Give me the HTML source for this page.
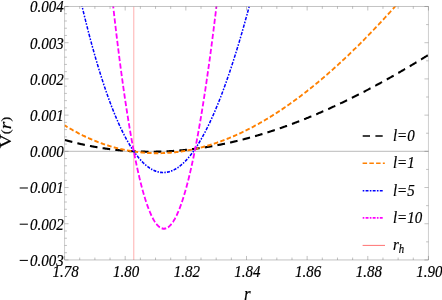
<!DOCTYPE html>
<html><head><meta charset="utf-8"><style>
html,body{margin:0;padding:0;background:#fff;}
body{width:442px;height:300px;overflow:hidden;}
svg{display:block;will-change:transform;}
text{font-family:"Liberation Serif",serif;font-style:italic;fill:#000;stroke:#000;stroke-width:0.18px;}
</style></head><body>
<svg width="442" height="300" viewBox="0 0 442 300">
<rect width="442" height="300" fill="#fff"/>
<defs><clipPath id="c"><rect x="64.55" y="5.65" width="363.90" height="220.39"/></clipPath></defs>
<g transform="scale(1,1.15)">
<line x1="64.55" y1="131.57" x2="428.45" y2="131.57" stroke="#666" stroke-width="0.42"/>
<g clip-path="url(#c)" fill="none" stroke-linecap="butt" stroke-linejoin="round">
<line x1="133.7" y1="5.65" x2="133.7" y2="226.04" stroke="#ffc6c6" stroke-width="1.4"/>
<path d="M64.55,121.64 L65.05,121.76 L65.55,121.88 L66.05,122.01 L66.55,122.13 L67.05,122.25 L67.55,122.36 L68.05,122.48 L68.55,122.60 L69.05,122.72 L69.55,122.83 L70.05,122.95 L70.55,123.06 L71.05,123.17 L71.55,123.29 L72.05,123.40 L72.55,123.51 L73.05,123.62 L73.55,123.73 L74.05,123.84 L74.55,123.95 L75.05,124.06 L75.55,124.16 L76.05,124.27 L76.55,124.37 L77.05,124.48 L77.55,124.58 L78.05,124.68 L78.55,124.79 L79.05,124.89 L79.55,124.99 L80.05,125.09 L80.55,125.19 L81.05,125.29 L81.55,125.38 L82.05,125.48 L82.55,125.58 L83.05,125.67 L83.55,125.77 L84.05,125.86 L84.55,125.95 L85.05,126.05 L85.55,126.14 L86.05,126.23 L86.55,126.32 L87.05,126.41 L87.55,126.50 L88.05,126.58 L88.55,126.67 L89.05,126.76 L89.55,126.84 L90.05,126.93 L90.55,127.01 L91.05,127.10 L91.55,127.18 L92.05,127.26 L92.55,127.34 L93.05,127.42 L93.55,127.50 L94.05,127.58 L94.55,127.66 L95.05,127.74 L95.55,127.81 L96.05,127.89 L96.55,127.97 L97.05,128.04 L97.55,128.11 L98.05,128.19 L98.55,128.26 L99.05,128.33 L99.55,128.40 L100.05,128.47 L100.55,128.54 L101.05,128.61 L101.55,128.68 L102.05,128.75 L102.55,128.81 L103.05,128.88 L103.55,128.95 L104.05,129.01 L104.55,129.07 L105.05,129.14 L105.55,129.20 L106.05,129.26 L106.55,129.32 L107.05,129.38 L107.55,129.44 L108.05,129.50 L108.55,129.56 L109.05,129.61 L109.55,129.67 L110.05,129.73 L110.55,129.78 L111.05,129.84 L111.55,129.89 L112.05,129.94 L112.55,130.00 L113.05,130.05 L113.55,130.10 L114.05,130.15 L114.55,130.20 L115.05,130.25 L115.55,130.30 L116.05,130.34 L116.55,130.39 L117.05,130.44 L117.55,130.48 L118.05,130.53 L118.55,130.57 L119.05,130.61 L119.55,130.65 L120.05,130.70 L120.55,130.74 L121.05,130.78 L121.55,130.82 L122.05,130.86 L122.55,130.89 L123.05,130.93 L123.55,130.97 L124.05,131.00 L124.55,131.04 L125.05,131.08 L125.55,131.11 L126.05,131.14 L126.55,131.18 L127.05,131.21 L127.55,131.24 L128.05,131.27 L128.55,131.30 L129.05,131.33 L129.55,131.36 L130.05,131.38 L130.55,131.41 L131.05,131.44 L131.55,131.46 L132.05,131.49 L132.55,131.51 L133.05,131.54 L133.55,131.56 L134.05,131.58 L134.55,131.60 L135.05,131.63 L135.55,131.65 L136.05,131.67 L136.55,131.68 L137.05,131.70 L137.55,131.72 L138.05,131.74 L138.55,131.75 L139.05,131.77 L139.55,131.78 L140.05,131.80 L140.55,131.81 L141.05,131.82 L141.55,131.84 L142.05,131.85 L142.55,131.86 L143.05,131.87 L143.55,131.88 L144.05,131.89 L144.55,131.90 L145.05,131.90 L145.55,131.91 L146.05,131.92 L146.55,131.92 L147.05,131.93 L147.55,131.93 L148.05,131.93 L148.55,131.94 L149.05,131.94 L149.55,131.94 L150.05,131.94 L150.55,131.94 L151.05,131.94 L151.55,131.94 L152.05,131.94 L152.55,131.93 L153.05,131.93 L153.55,131.93 L154.05,131.92 L154.55,131.92 L155.05,131.91 L155.55,131.91 L156.05,131.90 L156.55,131.89 L157.05,131.88 L157.55,131.87 L158.05,131.86 L158.55,131.85 L159.05,131.84 L159.55,131.83 L160.05,131.82 L160.55,131.81 L161.05,131.79 L161.55,131.78 L162.05,131.76 L162.55,131.75 L163.05,131.73 L163.55,131.71 L164.05,131.70 L164.55,131.68 L165.05,131.66 L165.55,131.64 L166.05,131.62 L166.55,131.60 L167.05,131.58 L167.55,131.56 L168.05,131.53 L168.55,131.51 L169.05,131.49 L169.55,131.46 L170.05,131.44 L170.55,131.41 L171.05,131.38 L171.55,131.36 L172.05,131.33 L172.55,131.30 L173.05,131.27 L173.55,131.24 L174.05,131.21 L174.55,131.18 L175.05,131.15 L175.55,131.12 L176.05,131.08 L176.55,131.05 L177.05,131.02 L177.55,130.98 L178.05,130.95 L178.55,130.91 L179.05,130.87 L179.55,130.84 L180.05,130.80 L180.55,130.76 L181.05,130.72 L181.55,130.68 L182.05,130.64 L182.55,130.60 L183.05,130.56 L183.55,130.52 L184.05,130.47 L184.55,130.43 L185.05,130.39 L185.55,130.34 L186.05,130.30 L186.55,130.25 L187.05,130.20 L187.55,130.16 L188.05,130.11 L188.55,130.06 L189.05,130.01 L189.55,129.96 L190.05,129.91 L190.55,129.86 L191.05,129.81 L191.55,129.76 L192.05,129.70 L192.55,129.65 L193.05,129.60 L193.55,129.54 L194.05,129.49 L194.55,129.43 L195.05,129.38 L195.55,129.32 L196.05,129.26 L196.55,129.20 L197.05,129.14 L197.55,129.09 L198.05,129.03 L198.55,128.96 L199.05,128.90 L199.55,128.84 L200.05,128.78 L200.55,128.72 L201.05,128.65 L201.55,128.59 L202.05,128.52 L202.55,128.46 L203.05,128.39 L203.55,128.33 L204.05,128.26 L204.55,128.19 L205.05,128.12 L205.55,128.05 L206.05,127.98 L206.55,127.91 L207.05,127.84 L207.55,127.77 L208.05,127.70 L208.55,127.63 L209.05,127.56 L209.55,127.48 L210.05,127.41 L210.55,127.33 L211.05,127.26 L211.55,127.18 L212.05,127.11 L212.55,127.03 L213.05,126.95 L213.55,126.87 L214.05,126.79 L214.55,126.71 L215.05,126.63 L215.55,126.55 L216.05,126.47 L216.55,126.39 L217.05,126.31 L217.55,126.22 L218.05,126.14 L218.55,126.06 L219.05,125.97 L219.55,125.89 L220.05,125.80 L220.55,125.72 L221.05,125.63 L221.55,125.54 L222.05,125.45 L222.55,125.36 L223.05,125.27 L223.55,125.18 L224.05,125.09 L224.55,125.00 L225.05,124.91 L225.55,124.82 L226.05,124.73 L226.55,124.63 L227.05,124.54 L227.55,124.45 L228.05,124.35 L228.55,124.26 L229.05,124.16 L229.55,124.06 L230.05,123.97 L230.55,123.87 L231.05,123.77 L231.55,123.67 L232.05,123.57 L232.55,123.47 L233.05,123.37 L233.55,123.27 L234.05,123.17 L234.55,123.07 L235.05,122.96 L235.55,122.86 L236.05,122.76 L236.55,122.65 L237.05,122.55 L237.55,122.44 L238.05,122.33 L238.55,122.23 L239.05,122.12 L239.55,122.01 L240.05,121.91 L240.55,121.80 L241.05,121.69 L241.55,121.58 L242.05,121.47 L242.55,121.36 L243.05,121.24 L243.55,121.13 L244.05,121.02 L244.55,120.91 L245.05,120.79 L245.55,120.68 L246.05,120.56 L246.55,120.45 L247.05,120.33 L247.55,120.22 L248.05,120.10 L248.55,119.98 L249.05,119.86 L249.55,119.74 L250.05,119.63 L250.55,119.51 L251.05,119.39 L251.55,119.26 L252.05,119.14 L252.55,119.02 L253.05,118.90 L253.55,118.78 L254.05,118.65 L254.55,118.53 L255.05,118.40 L255.55,118.28 L256.05,118.15 L256.55,118.03 L257.05,117.90 L257.55,117.77 L258.05,117.65 L258.55,117.52 L259.05,117.39 L259.55,117.26 L260.05,117.13 L260.55,117.00 L261.05,116.87 L261.55,116.74 L262.05,116.61 L262.55,116.47 L263.05,116.34 L263.55,116.21 L264.05,116.07 L264.55,115.94 L265.05,115.81 L265.55,115.67 L266.05,115.53 L266.55,115.40 L267.05,115.26 L267.55,115.12 L268.05,114.99 L268.55,114.85 L269.05,114.71 L269.55,114.57 L270.05,114.43 L270.55,114.29 L271.05,114.15 L271.55,114.00 L272.05,113.86 L272.55,113.72 L273.05,113.58 L273.55,113.43 L274.05,113.29 L274.55,113.14 L275.05,113.00 L275.55,112.85 L276.05,112.71 L276.55,112.56 L277.05,112.41 L277.55,112.27 L278.05,112.12 L278.55,111.97 L279.05,111.82 L279.55,111.67 L280.05,111.52 L280.55,111.37 L281.05,111.22 L281.55,111.07 L282.05,110.91 L282.55,110.76 L283.05,110.61 L283.55,110.46 L284.05,110.30 L284.55,110.15 L285.05,109.99 L285.55,109.84 L286.05,109.68 L286.55,109.52 L287.05,109.37 L287.55,109.21 L288.05,109.05 L288.55,108.89 L289.05,108.73 L289.55,108.57 L290.05,108.41 L290.55,108.25 L291.05,108.09 L291.55,107.93 L292.05,107.77 L292.55,107.61 L293.05,107.44 L293.55,107.28 L294.05,107.12 L294.55,106.95 L295.05,106.79 L295.55,106.62 L296.05,106.46 L296.55,106.29 L297.05,106.12 L297.55,105.96 L298.05,105.79 L298.55,105.62 L299.05,105.45 L299.55,105.28 L300.05,105.11 L300.55,104.94 L301.05,104.77 L301.55,104.60 L302.05,104.43 L302.55,104.26 L303.05,104.09 L303.55,103.91 L304.05,103.74 L304.55,103.57 L305.05,103.39 L305.55,103.22 L306.05,103.04 L306.55,102.87 L307.05,102.69 L307.55,102.51 L308.05,102.34 L308.55,102.16 L309.05,101.98 L309.55,101.80 L310.05,101.62 L310.55,101.44 L311.05,101.26 L311.55,101.08 L312.05,100.90 L312.55,100.72 L313.05,100.54 L313.55,100.36 L314.05,100.18 L314.55,99.99 L315.05,99.81 L315.55,99.63 L316.05,99.44 L316.55,99.26 L317.05,99.07 L317.55,98.89 L318.05,98.70 L318.55,98.51 L319.05,98.33 L319.55,98.14 L320.05,97.95 L320.55,97.76 L321.05,97.57 L321.55,97.38 L322.05,97.19 L322.55,97.00 L323.05,96.81 L323.55,96.62 L324.05,96.43 L324.55,96.24 L325.05,96.05 L325.55,95.85 L326.05,95.66 L326.55,95.47 L327.05,95.27 L327.55,95.08 L328.05,94.88 L328.55,94.69 L329.05,94.49 L329.55,94.30 L330.05,94.10 L330.55,93.90 L331.05,93.70 L331.55,93.51 L332.05,93.31 L332.55,93.11 L333.05,92.91 L333.55,92.71 L334.05,92.51 L334.55,92.31 L335.05,92.11 L335.55,91.91 L336.05,91.70 L336.55,91.50 L337.05,91.30 L337.55,91.10 L338.05,90.89 L338.55,90.69 L339.05,90.48 L339.55,90.28 L340.05,90.07 L340.55,89.87 L341.05,89.66 L341.55,89.45 L342.05,89.25 L342.55,89.04 L343.05,88.83 L343.55,88.62 L344.05,88.41 L344.55,88.21 L345.05,88.00 L345.55,87.79 L346.05,87.58 L346.55,87.37 L347.05,87.15 L347.55,86.94 L348.05,86.73 L348.55,86.52 L349.05,86.31 L349.55,86.09 L350.05,85.88 L350.55,85.66 L351.05,85.45 L351.55,85.23 L352.05,85.02 L352.55,84.80 L353.05,84.59 L353.55,84.37 L354.05,84.15 L354.55,83.94 L355.05,83.72 L355.55,83.50 L356.05,83.28 L356.55,83.06 L357.05,82.84 L357.55,82.62 L358.05,82.40 L358.55,82.18 L359.05,81.96 L359.55,81.74 L360.05,81.52 L360.55,81.30 L361.05,81.08 L361.55,80.85 L362.05,80.63 L362.55,80.41 L363.05,80.18 L363.55,79.96 L364.05,79.73 L364.55,79.51 L365.05,79.28 L365.55,79.06 L366.05,78.83 L366.55,78.60 L367.05,78.38 L367.55,78.15 L368.05,77.92 L368.55,77.69 L369.05,77.46 L369.55,77.23 L370.05,77.00 L370.55,76.77 L371.05,76.54 L371.55,76.31 L372.05,76.08 L372.55,75.85 L373.05,75.62 L373.55,75.39 L374.05,75.15 L374.55,74.92 L375.05,74.69 L375.55,74.45 L376.05,74.22 L376.55,73.99 L377.05,73.75 L377.55,73.52 L378.05,73.28 L378.55,73.04 L379.05,72.81 L379.55,72.57 L380.05,72.33 L380.55,72.10 L381.05,71.86 L381.55,71.62 L382.05,71.38 L382.55,71.14 L383.05,70.90 L383.55,70.67 L384.05,70.43 L384.55,70.18 L385.05,69.94 L385.55,69.70 L386.05,69.46 L386.55,69.22 L387.05,68.98 L387.55,68.73 L388.05,68.49 L388.55,68.25 L389.05,68.01 L389.55,67.76 L390.05,67.52 L390.55,67.27 L391.05,67.03 L391.55,66.78 L392.05,66.54 L392.55,66.29 L393.05,66.04 L393.55,65.80 L394.05,65.55 L394.55,65.30 L395.05,65.05 L395.55,64.81 L396.05,64.56 L396.55,64.31 L397.05,64.06 L397.55,63.81 L398.05,63.56 L398.55,63.31 L399.05,63.06 L399.55,62.81 L400.05,62.56 L400.55,62.30 L401.05,62.05 L401.55,61.80 L402.05,61.55 L402.55,61.29 L403.05,61.04 L403.55,60.79 L404.05,60.53 L404.55,60.28 L405.05,60.02 L405.55,59.77 L406.05,59.51 L406.55,59.26 L407.05,59.00 L407.55,58.74 L408.05,58.49 L408.55,58.23 L409.05,57.97 L409.55,57.71 L410.05,57.46 L410.55,57.20 L411.05,56.94 L411.55,56.68 L412.05,56.42 L412.55,56.16 L413.05,55.90 L413.55,55.64 L414.05,55.38 L414.55,55.12 L415.05,54.86 L415.55,54.60 L416.05,54.33 L416.55,54.07 L417.05,53.81 L417.55,53.54 L418.05,53.28 L418.55,53.02 L419.05,52.75 L419.55,52.49 L420.05,52.22 L420.55,51.96 L421.05,51.69 L421.55,51.43 L422.05,51.16 L422.55,50.90 L423.05,50.63 L423.55,50.36 L424.05,50.10 L424.55,49.83 L425.05,49.56 L425.55,49.29 L426.05,49.02 L426.55,48.75 L427.05,48.49 L427.55,48.22 L428.45,47.73" stroke="#000" stroke-width="1.85" stroke-dasharray="7.65 5.16" stroke-dashoffset="12.49"/>
<path d="M64.55,108.96 L65.05,109.23 L65.55,109.49 L66.05,109.76 L66.55,110.02 L67.05,110.28 L67.55,110.54 L68.05,110.80 L68.55,111.06 L69.05,111.32 L69.55,111.57 L70.05,111.82 L70.55,112.08 L71.05,112.33 L71.55,112.57 L72.05,112.82 L72.55,113.07 L73.05,113.31 L73.55,113.55 L74.05,113.79 L74.55,114.03 L75.05,114.27 L75.55,114.50 L76.05,114.74 L76.55,114.97 L77.05,115.20 L77.55,115.43 L78.05,115.66 L78.55,115.89 L79.05,116.11 L79.55,116.33 L80.05,116.56 L80.55,116.78 L81.05,116.99 L81.55,117.21 L82.05,117.43 L82.55,117.64 L83.05,117.85 L83.55,118.07 L84.05,118.28 L84.55,118.48 L85.05,118.69 L85.55,118.90 L86.05,119.10 L86.55,119.30 L87.05,119.50 L87.55,119.70 L88.05,119.90 L88.55,120.09 L89.05,120.29 L89.55,120.48 L90.05,120.67 L90.55,120.86 L91.05,121.05 L91.55,121.24 L92.05,121.42 L92.55,121.61 L93.05,121.79 L93.55,121.97 L94.05,122.15 L94.55,122.33 L95.05,122.51 L95.55,122.68 L96.05,122.85 L96.55,123.03 L97.05,123.20 L97.55,123.37 L98.05,123.53 L98.55,123.70 L99.05,123.86 L99.55,124.03 L100.05,124.19 L100.55,124.35 L101.05,124.51 L101.55,124.66 L102.05,124.82 L102.55,124.97 L103.05,125.13 L103.55,125.28 L104.05,125.43 L104.55,125.58 L105.05,125.72 L105.55,125.87 L106.05,126.01 L106.55,126.15 L107.05,126.30 L107.55,126.43 L108.05,126.57 L108.55,126.71 L109.05,126.84 L109.55,126.98 L110.05,127.11 L110.55,127.24 L111.05,127.37 L111.55,127.50 L112.05,127.62 L112.55,127.75 L113.05,127.87 L113.55,128.00 L114.05,128.12 L114.55,128.24 L115.05,128.35 L115.55,128.47 L116.05,128.58 L116.55,128.70 L117.05,128.81 L117.55,128.92 L118.05,129.03 L118.55,129.14 L119.05,129.24 L119.55,129.35 L120.05,129.45 L120.55,129.55 L121.05,129.65 L121.55,129.75 L122.05,129.85 L122.55,129.95 L123.05,130.04 L123.55,130.13 L124.05,130.23 L124.55,130.32 L125.05,130.41 L125.55,130.49 L126.05,130.58 L126.55,130.66 L127.05,130.75 L127.55,130.83 L128.05,130.91 L128.55,130.99 L129.05,131.07 L129.55,131.14 L130.05,131.22 L130.55,131.29 L131.05,131.36 L131.55,131.44 L132.05,131.50 L132.55,131.57 L133.05,131.64 L133.55,131.70 L134.05,131.77 L134.55,131.83 L135.05,131.89 L135.55,131.95 L136.05,132.01 L136.55,132.07 L137.05,132.12 L137.55,132.18 L138.05,132.23 L138.55,132.28 L139.05,132.33 L139.55,132.38 L140.05,132.43 L140.55,132.47 L141.05,132.52 L141.55,132.56 L142.05,132.60 L142.55,132.64 L143.05,132.68 L143.55,132.72 L144.05,132.75 L144.55,132.79 L145.05,132.82 L145.55,132.85 L146.05,132.89 L146.55,132.91 L147.05,132.94 L147.55,132.97 L148.05,132.99 L148.55,133.02 L149.05,133.04 L149.55,133.06 L150.05,133.08 L150.55,133.10 L151.05,133.12 L151.55,133.13 L152.05,133.15 L152.55,133.16 L153.05,133.17 L153.55,133.18 L154.05,133.19 L154.55,133.20 L155.05,133.21 L155.55,133.21 L156.05,133.22 L156.55,133.22 L157.05,133.22 L157.55,133.22 L158.05,133.22 L158.55,133.21 L159.05,133.21 L159.55,133.20 L160.05,133.20 L160.55,133.19 L161.05,133.18 L161.55,133.17 L162.05,133.16 L162.55,133.14 L163.05,133.13 L163.55,133.11 L164.05,133.09 L164.55,133.08 L165.05,133.06 L165.55,133.03 L166.05,133.01 L166.55,132.99 L167.05,132.96 L167.55,132.94 L168.05,132.91 L168.55,132.88 L169.05,132.85 L169.55,132.82 L170.05,132.78 L170.55,132.75 L171.05,132.71 L171.55,132.68 L172.05,132.64 L172.55,132.60 L173.05,132.56 L173.55,132.51 L174.05,132.47 L174.55,132.43 L175.05,132.38 L175.55,132.33 L176.05,132.28 L176.55,132.23 L177.05,132.18 L177.55,132.13 L178.05,132.08 L178.55,132.02 L179.05,131.96 L179.55,131.91 L180.05,131.85 L180.55,131.79 L181.05,131.73 L181.55,131.66 L182.05,131.60 L182.55,131.53 L183.05,131.47 L183.55,131.40 L184.05,131.33 L184.55,131.26 L185.05,131.19 L185.55,131.12 L186.05,131.04 L186.55,130.97 L187.05,130.89 L187.55,130.81 L188.05,130.73 L188.55,130.65 L189.05,130.57 L189.55,130.49 L190.05,130.40 L190.55,130.32 L191.05,130.23 L191.55,130.14 L192.05,130.05 L192.55,129.96 L193.05,129.87 L193.55,129.78 L194.05,129.69 L194.55,129.59 L195.05,129.49 L195.55,129.40 L196.05,129.30 L196.55,129.20 L197.05,129.10 L197.55,128.99 L198.05,128.89 L198.55,128.78 L199.05,128.68 L199.55,128.57 L200.05,128.46 L200.55,128.35 L201.05,128.24 L201.55,128.13 L202.05,128.01 L202.55,127.90 L203.05,127.78 L203.55,127.66 L204.05,127.55 L204.55,127.43 L205.05,127.31 L205.55,127.18 L206.05,127.06 L206.55,126.94 L207.05,126.81 L207.55,126.68 L208.05,126.55 L208.55,126.42 L209.05,126.29 L209.55,126.16 L210.05,126.03 L210.55,125.89 L211.05,125.76 L211.55,125.62 L212.05,125.48 L212.55,125.35 L213.05,125.21 L213.55,125.06 L214.05,124.92 L214.55,124.78 L215.05,124.63 L215.55,124.49 L216.05,124.34 L216.55,124.19 L217.05,124.04 L217.55,123.89 L218.05,123.74 L218.55,123.59 L219.05,123.43 L219.55,123.28 L220.05,123.12 L220.55,122.96 L221.05,122.80 L221.55,122.64 L222.05,122.48 L222.55,122.32 L223.05,122.15 L223.55,121.99 L224.05,121.82 L224.55,121.66 L225.05,121.49 L225.55,121.32 L226.05,121.15 L226.55,120.98 L227.05,120.80 L227.55,120.63 L228.05,120.45 L228.55,120.28 L229.05,120.10 L229.55,119.92 L230.05,119.74 L230.55,119.56 L231.05,119.38 L231.55,119.19 L232.05,119.01 L232.55,118.82 L233.05,118.64 L233.55,118.45 L234.05,118.26 L234.55,118.07 L235.05,117.88 L235.55,117.69 L236.05,117.49 L236.55,117.30 L237.05,117.10 L237.55,116.91 L238.05,116.71 L238.55,116.51 L239.05,116.31 L239.55,116.11 L240.05,115.91 L240.55,115.70 L241.05,115.50 L241.55,115.29 L242.05,115.08 L242.55,114.88 L243.05,114.67 L243.55,114.46 L244.05,114.25 L244.55,114.03 L245.05,113.82 L245.55,113.61 L246.05,113.39 L246.55,113.17 L247.05,112.95 L247.55,112.74 L248.05,112.52 L248.55,112.29 L249.05,112.07 L249.55,111.85 L250.05,111.62 L250.55,111.40 L251.05,111.17 L251.55,110.94 L252.05,110.71 L252.55,110.48 L253.05,110.25 L253.55,110.02 L254.05,109.79 L254.55,109.55 L255.05,109.32 L255.55,109.08 L256.05,108.84 L256.55,108.61 L257.05,108.37 L257.55,108.12 L258.05,107.88 L258.55,107.64 L259.05,107.40 L259.55,107.15 L260.05,106.90 L260.55,106.66 L261.05,106.41 L261.55,106.16 L262.05,105.91 L262.55,105.66 L263.05,105.41 L263.55,105.15 L264.05,104.90 L264.55,104.64 L265.05,104.38 L265.55,104.13 L266.05,103.87 L266.55,103.61 L267.05,103.35 L267.55,103.09 L268.05,102.82 L268.55,102.56 L269.05,102.29 L269.55,102.03 L270.05,101.76 L270.55,101.49 L271.05,101.22 L271.55,100.95 L272.05,100.68 L272.55,100.41 L273.05,100.13 L273.55,99.86 L274.05,99.58 L274.55,99.31 L275.05,99.03 L275.55,98.75 L276.05,98.47 L276.55,98.19 L277.05,97.91 L277.55,97.63 L278.05,97.34 L278.55,97.06 L279.05,96.77 L279.55,96.49 L280.05,96.20 L280.55,95.91 L281.05,95.62 L281.55,95.33 L282.05,95.04 L282.55,94.74 L283.05,94.45 L283.55,94.16 L284.05,93.86 L284.55,93.56 L285.05,93.26 L285.55,92.97 L286.05,92.67 L286.55,92.37 L287.05,92.06 L287.55,91.76 L288.05,91.46 L288.55,91.15 L289.05,90.85 L289.55,90.54 L290.05,90.23 L290.55,89.92 L291.05,89.61 L291.55,89.30 L292.05,88.99 L292.55,88.68 L293.05,88.36 L293.55,88.05 L294.05,87.73 L294.55,87.42 L295.05,87.10 L295.55,86.78 L296.05,86.46 L296.55,86.14 L297.05,85.82 L297.55,85.50 L298.05,85.17 L298.55,84.85 L299.05,84.52 L299.55,84.20 L300.05,83.87 L300.55,83.54 L301.05,83.21 L301.55,82.88 L302.05,82.55 L302.55,82.22 L303.05,81.89 L303.55,81.55 L304.05,81.22 L304.55,80.88 L305.05,80.54 L305.55,80.21 L306.05,79.87 L306.55,79.53 L307.05,79.19 L307.55,78.85 L308.05,78.50 L308.55,78.16 L309.05,77.81 L309.55,77.47 L310.05,77.12 L310.55,76.78 L311.05,76.43 L311.55,76.08 L312.05,75.73 L312.55,75.38 L313.05,75.03 L313.55,74.67 L314.05,74.32 L314.55,73.96 L315.05,73.61 L315.55,73.25 L316.05,72.89 L316.55,72.54 L317.05,72.18 L317.55,71.82 L318.05,71.46 L318.55,71.09 L319.05,70.73 L319.55,70.37 L320.05,70.00 L320.55,69.64 L321.05,69.27 L321.55,68.90 L322.05,68.53 L322.55,68.16 L323.05,67.79 L323.55,67.42 L324.05,67.05 L324.55,66.68 L325.05,66.30 L325.55,65.93 L326.05,65.55 L326.55,65.18 L327.05,64.80 L327.55,64.42 L328.05,64.04 L328.55,63.66 L329.05,63.28 L329.55,62.90 L330.05,62.52 L330.55,62.13 L331.05,61.75 L331.55,61.36 L332.05,60.98 L332.55,60.59 L333.05,60.20 L333.55,59.81 L334.05,59.42 L334.55,59.03 L335.05,58.64 L335.55,58.25 L336.05,57.86 L336.55,57.46 L337.05,57.07 L337.55,56.67 L338.05,56.27 L338.55,55.88 L339.05,55.48 L339.55,55.08 L340.05,54.68 L340.55,54.28 L341.05,53.88 L341.55,53.47 L342.05,53.07 L342.55,52.67 L343.05,52.26 L343.55,51.85 L344.05,51.45 L344.55,51.04 L345.05,50.63 L345.55,50.22 L346.05,49.81 L346.55,49.40 L347.05,48.99 L347.55,48.57 L348.05,48.16 L348.55,47.75 L349.05,47.33 L349.55,46.91 L350.05,46.50 L350.55,46.08 L351.05,45.66 L351.55,45.24 L352.05,44.82 L352.55,44.40 L353.05,43.98 L353.55,43.55 L354.05,43.13 L354.55,42.71 L355.05,42.28 L355.55,41.86 L356.05,41.43 L356.55,41.00 L357.05,40.57 L357.55,40.14 L358.05,39.71 L358.55,39.28 L359.05,38.85 L359.55,38.42 L360.05,37.98 L360.55,37.55 L361.05,37.11 L361.55,36.68 L362.05,36.24 L362.55,35.80 L363.05,35.37 L363.55,34.93 L364.05,34.49 L364.55,34.05 L365.05,33.60 L365.55,33.16 L366.05,32.72 L366.55,32.28 L367.05,31.83 L367.55,31.39 L368.05,30.94 L368.55,30.49 L369.05,30.04 L369.55,29.60 L370.05,29.15 L370.55,28.70 L371.05,28.25 L371.55,27.79 L372.05,27.34 L372.55,26.89 L373.05,26.43 L373.55,25.98 L374.05,25.52 L374.55,25.07 L375.05,24.61 L375.55,24.15 L376.05,23.69 L376.55,23.24 L377.05,22.77 L377.55,22.31 L378.05,21.85 L378.55,21.39 L379.05,20.93 L379.55,20.46 L380.05,20.00 L380.55,19.53 L381.05,19.07 L381.55,18.60 L382.05,18.13 L382.55,17.66 L383.05,17.19 L383.55,16.72 L384.05,16.25 L384.55,15.78 L385.05,15.31 L385.55,14.84 L386.05,14.36 L386.55,13.89 L387.05,13.41 L387.55,12.94 L388.05,12.46 L388.55,11.98 L389.05,11.51 L389.55,11.03 L390.05,10.55 L390.55,10.07 L391.05,9.59 L391.55,9.11 L392.05,8.62 L392.55,8.14 L393.05,7.66 L393.55,7.17 L394.05,6.69 L394.55,6.20 L395.05,5.71 L395.55,5.23 L396.05,4.74 L396.55,4.25 L397.05,3.76 L397.55,3.27 L398.05,2.78 L398.55,2.29 L399.05,1.79 L399.55,1.30 L400.05,0.81 L400.55,0.31 L401.05,-0.18 L401.55,-0.68 L402.05,-1.18 L402.55,-1.67 L403.05,-2.17 L403.55,-2.67 L404.05,-3.17 L404.55,-3.67 L405.05,-4.17 L405.55,-4.67 L406.05,-5.17 L406.55,-5.68 L407.05,-6.18 L407.55,-6.68 L408.05,-7.19 L408.55,-7.69 L409.05,-8.20 L409.55,-8.71 L410.05,-9.22 L410.55,-9.72 L411.05,-10.23 L411.55,-10.74 L412.05,-11.25 L412.55,-11.76 L413.05,-12.28 L413.55,-12.79 L414.05,-13.30 L414.55,-13.81 L415.05,-14.33 L415.55,-14.84 L416.05,-15.36 L416.55,-15.88 L417.05,-16.39 L417.55,-16.91 L418.05,-17.43 L418.55,-17.95 L419.05,-18.47 L419.55,-18.99 L420.05,-19.51 L420.55,-20.03 L421.05,-20.55 L421.55,-21.07 L422.05,-21.60 L422.55,-22.12 L423.05,-22.65 L423.55,-23.17 L424.05,-23.70 L424.55,-24.23 L425.05,-24.75 L425.55,-25.28 L426.05,-25.81 L426.55,-26.34 L427.05,-26.87 L427.55,-27.40 L428.45,-28.36" stroke="#ff8000" stroke-width="1.7" stroke-dasharray="4.5 2.25" stroke-dashoffset="1.08"/>
<path d="M64.55,-65.86 L65.05,-63.61 L65.55,-61.38 L66.05,-59.15 L66.55,-56.94 L67.05,-54.75 L67.55,-52.56 L68.05,-50.39 L68.55,-48.23 L69.05,-46.08 L69.55,-43.95 L70.05,-41.82 L70.55,-39.71 L71.05,-37.61 L71.55,-35.53 L72.05,-33.45 L72.55,-31.39 L73.05,-29.34 L73.55,-27.31 L74.05,-25.28 L74.55,-23.27 L75.05,-21.27 L75.55,-19.28 L76.05,-17.30 L76.55,-15.34 L77.05,-13.39 L77.55,-11.45 L78.05,-9.52 L78.55,-7.61 L79.05,-5.70 L79.55,-3.81 L80.05,-1.93 L80.55,-0.07 L81.05,1.79 L81.55,3.63 L82.05,5.46 L82.55,7.28 L83.05,9.08 L83.55,10.88 L84.05,12.66 L84.55,14.43 L85.05,16.19 L85.55,17.93 L86.05,19.67 L86.55,21.39 L87.05,23.10 L87.55,24.80 L88.05,26.49 L88.55,28.16 L89.05,29.82 L89.55,31.47 L90.05,33.11 L90.55,34.74 L91.05,36.35 L91.55,37.96 L92.05,39.55 L92.55,41.13 L93.05,42.69 L93.55,44.25 L94.05,45.79 L94.55,47.33 L95.05,48.85 L95.55,50.35 L96.05,51.85 L96.55,53.33 L97.05,54.81 L97.55,56.27 L98.05,57.72 L98.55,59.16 L99.05,60.58 L99.55,62.00 L100.05,63.40 L100.55,64.79 L101.05,66.17 L101.55,67.54 L102.05,68.89 L102.55,70.24 L103.05,71.57 L103.55,72.89 L104.05,74.20 L104.55,75.50 L105.05,76.78 L105.55,78.06 L106.05,79.32 L106.55,80.57 L107.05,81.81 L107.55,83.04 L108.05,84.26 L108.55,85.46 L109.05,86.66 L109.55,87.84 L110.05,89.01 L110.55,90.17 L111.05,91.32 L111.55,92.45 L112.05,93.58 L112.55,94.69 L113.05,95.79 L113.55,96.88 L114.05,97.96 L114.55,99.03 L115.05,100.09 L115.55,101.13 L116.05,102.16 L116.55,103.19 L117.05,104.20 L117.55,105.20 L118.05,106.18 L118.55,107.16 L119.05,108.13 L119.55,109.08 L120.05,110.02 L120.55,110.96 L121.05,111.88 L121.55,112.79 L122.05,113.68 L122.55,114.57 L123.05,115.45 L123.55,116.31 L124.05,117.16 L124.55,118.00 L125.05,118.84 L125.55,119.65 L126.05,120.46 L126.55,121.26 L127.05,122.05 L127.55,122.82 L128.05,123.58 L128.55,124.34 L129.05,125.08 L129.55,125.81 L130.05,126.53 L130.55,127.24 L131.05,127.93 L131.55,128.62 L132.05,129.30 L132.55,129.96 L133.05,130.61 L133.55,131.25 L134.05,131.89 L134.55,132.51 L135.05,133.11 L135.55,133.71 L136.05,134.30 L136.55,134.88 L137.05,135.44 L137.55,136.00 L138.05,136.54 L138.55,137.07 L139.05,137.59 L139.55,138.10 L140.05,138.60 L140.55,139.09 L141.05,139.57 L141.55,140.04 L142.05,140.49 L142.55,140.94 L143.05,141.38 L143.55,141.80 L144.05,142.21 L144.55,142.62 L145.05,143.01 L145.55,143.39 L146.05,143.76 L146.55,144.12 L147.05,144.47 L147.55,144.80 L148.05,145.13 L148.55,145.45 L149.05,145.75 L149.55,146.05 L150.05,146.33 L150.55,146.61 L151.05,146.87 L151.55,147.12 L152.05,147.37 L152.55,147.60 L153.05,147.82 L153.55,148.03 L154.05,148.23 L154.55,148.42 L155.05,148.59 L155.55,148.76 L156.05,148.92 L156.55,149.07 L157.05,149.20 L157.55,149.33 L158.05,149.44 L158.55,149.55 L159.05,149.64 L159.55,149.73 L160.05,149.80 L160.55,149.86 L161.05,149.91 L161.55,149.96 L162.05,149.99 L162.55,150.01 L163.05,150.02 L163.55,150.02 L164.05,150.01 L164.55,149.99 L165.05,149.96 L165.55,149.92 L166.05,149.87 L166.55,149.81 L167.05,149.73 L167.55,149.65 L168.05,149.56 L168.55,149.46 L169.05,149.34 L169.55,149.22 L170.05,149.08 L170.55,148.94 L171.05,148.79 L171.55,148.62 L172.05,148.45 L172.55,148.26 L173.05,148.07 L173.55,147.86 L174.05,147.65 L174.55,147.42 L175.05,147.19 L175.55,146.94 L176.05,146.68 L176.55,146.42 L177.05,146.14 L177.55,145.85 L178.05,145.56 L178.55,145.25 L179.05,144.94 L179.55,144.61 L180.05,144.27 L180.55,143.93 L181.05,143.57 L181.55,143.20 L182.05,142.83 L182.55,142.44 L183.05,142.04 L183.55,141.63 L184.05,141.22 L184.55,140.79 L185.05,140.36 L185.55,139.91 L186.05,139.45 L186.55,138.99 L187.05,138.51 L187.55,138.02 L188.05,137.53 L188.55,137.02 L189.05,136.51 L189.55,135.98 L190.05,135.44 L190.55,134.90 L191.05,134.34 L191.55,133.78 L192.05,133.20 L192.55,132.62 L193.05,132.03 L193.55,131.42 L194.05,130.81 L194.55,130.18 L195.05,129.55 L195.55,128.91 L196.05,128.25 L196.55,127.59 L197.05,126.92 L197.55,126.24 L198.05,125.55 L198.55,124.85 L199.05,124.13 L199.55,123.41 L200.05,122.68 L200.55,121.94 L201.05,121.20 L201.55,120.44 L202.05,119.67 L202.55,118.89 L203.05,118.10 L203.55,117.30 L204.05,116.50 L204.55,115.68 L205.05,114.86 L205.55,114.02 L206.05,113.17 L206.55,112.32 L207.05,111.46 L207.55,110.58 L208.05,109.70 L208.55,108.81 L209.05,107.91 L209.55,106.99 L210.05,106.07 L210.55,105.14 L211.05,104.20 L211.55,103.26 L212.05,102.30 L212.55,101.33 L213.05,100.35 L213.55,99.37 L214.05,98.37 L214.55,97.37 L215.05,96.35 L215.55,95.33 L216.05,94.29 L216.55,93.25 L217.05,92.20 L217.55,91.14 L218.05,90.07 L218.55,88.99 L219.05,87.90 L219.55,86.80 L220.05,85.70 L220.55,84.58 L221.05,83.46 L221.55,82.32 L222.05,81.18 L222.55,80.02 L223.05,78.86 L223.55,77.69 L224.05,76.51 L224.55,75.32 L225.05,74.12 L225.55,72.91 L226.05,71.70 L226.55,70.47 L227.05,69.24 L227.55,67.99 L228.05,66.74 L228.55,65.48 L229.05,64.21 L229.55,62.93 L230.05,61.64 L230.55,60.34 L231.05,59.03 L231.55,57.71 L232.05,56.39 L232.55,55.05 L233.05,53.71 L233.55,52.36 L234.05,51.00 L234.55,49.63 L235.05,48.25 L235.55,46.86 L236.05,45.46 L236.55,44.06 L237.05,42.64 L237.55,41.22 L238.05,39.79 L238.55,38.35 L239.05,36.90 L239.55,35.44 L240.05,33.97 L240.55,32.50 L241.05,31.01 L241.55,29.52 L242.05,28.02 L242.55,26.50 L243.05,24.98 L243.55,23.46 L244.05,21.92 L244.55,20.37 L245.05,18.82 L245.55,17.25 L246.05,15.68 L246.55,14.10 L247.05,12.51 L247.55,10.91 L248.05,9.30 L248.55,7.69 L249.05,6.07 L249.55,4.43 L250.05,2.79 L250.55,1.14 L251.05,-0.52 L251.55,-2.18 L252.05,-3.86 L252.55,-5.54 L253.05,-7.24 L253.55,-8.94 L254.05,-10.65 L254.55,-12.37 L255.05,-14.09 L255.55,-15.83 L256.05,-17.57 L256.55,-19.33 L257.05,-21.09 L257.55,-22.85 L258.05,-24.63 L258.55,-26.42 L259.05,-28.21 L259.55,-30.02 L260.05,-31.83 L260.55,-33.65 L261.05,-35.47 L261.55,-37.31 L262.05,-39.16 L262.55,-41.01 L263.05,-42.87 L263.55,-44.74 L264.05,-46.62 L264.55,-48.50 L265.05,-50.40 L265.55,-52.30 L266.05,-54.21 L266.55,-56.13 L267.05,-58.06 L267.55,-60.00 L268.05,-61.94 L268.55,-63.89 L269.05,-65.85 L269.55,-67.82 L270.05,-69.80 L270.55,-71.78 L271.05,-73.78 L271.55,-75.78 L272.05,-77.79 L272.55,-79.81 L273.05,-81.83 L273.55,-83.87 L274.05,-85.91 L274.55,-87.96 L275.05,-90.02 L275.55,-92.08 L276.05,-94.16 L276.55,-96.24 L277.05,-98.33 L277.55,-100.43 L278.05,-102.53 L278.55,-104.65 L279.05,-106.77 L279.55,-108.90 L280.05,-111.04 L280.55,-113.19 L281.05,-115.34 L281.55,-117.50 L282.05,-119.67 L282.55,-121.85 L283.05,-124.04 L283.55,-126.23 L284.05,-128.43 L284.55,-130.64 L285.05,-132.86 L285.55,-135.09 L286.05,-137.32 L286.55,-139.56 L287.05,-141.81 L287.55,-144.07 L288.05,-146.33 L288.55,-148.61 L289.05,-150.89 L289.55,-153.17 L290.05,-155.47 L290.55,-157.77 L291.05,-160.09 L291.55,-162.41 L292.05,-164.73 L292.55,-167.07 L293.05,-169.41 L293.55,-171.76 L294.05,-174.12 L294.55,-176.48 L295.05,-178.86 L295.55,-181.24 L296.05,-183.62 L296.55,-186.02 L297.05,-188.42 L297.55,-190.84 L298.05,-193.25 L298.55,-195.68 L299.05,-198.12 L299.55,-200.56 L300.05,-203.01 L300.55,-205.46 L301.05,-207.93 L301.55,-210.40 L302.05,-212.88 L302.55,-215.37 L303.05,-217.86 L303.55,-220.36 L304.05,-222.87 L304.55,-225.39 L305.05,-227.91 L305.55,-230.44 L306.05,-232.98 L306.55,-235.53 L307.05,-238.08 L307.55,-240.65 L308.05,-243.21 L308.55,-245.79 L309.05,-248.37 L309.55,-250.97 L310.05,-253.56 L310.55,-256.17 L311.05,-258.78 L311.55,-261.40 L312.05,-264.03 L312.55,-266.67 L313.05,-269.31 L313.55,-271.96 L314.05,-274.62 L314.55,-277.28 L315.05,-279.95 L315.55,-282.63 L316.05,-285.32 L316.55,-288.01 L317.05,-290.71 L317.55,-293.42 L318.05,-296.13 L318.55,-298.85 L319.05,-301.58 L319.55,-304.32 L320.05,-307.06 L320.55,-309.81 L321.05,-312.57 L321.55,-315.34 L322.05,-318.11 L322.55,-320.89 L323.05,-323.67 L323.55,-326.47 L324.05,-329.27 L324.55,-332.07 L325.05,-334.89 L325.55,-337.71 L326.05,-340.54 L326.55,-343.37 L327.05,-346.22 L327.55,-349.07 L328.05,-351.92 L328.55,-354.79 L329.05,-357.66 L329.55,-360.53 L330.05,-363.42 L330.55,-366.31 L331.05,-369.21 L331.55,-372.11 L332.05,-375.02 L332.55,-377.94 L333.05,-380.87 L333.55,-383.80 L334.05,-386.74 L334.55,-389.69 L335.05,-392.64 L335.55,-395.60 L336.05,-398.57 L336.55,-401.54 L337.05,-404.52 L337.55,-407.51 L338.05,-410.50 L338.55,-413.50 L339.05,-416.51 L339.55,-419.53 L340.05,-422.55 L340.55,-425.57 L341.05,-428.61 L341.55,-431.65 L342.05,-434.70 L342.55,-437.75 L343.05,-440.81 L343.55,-443.88 L344.05,-446.96 L344.55,-450.04 L345.05,-453.13 L345.55,-456.22 L346.05,-459.32 L346.55,-462.43 L347.05,-465.54 L347.55,-468.66 L348.05,-471.79 L348.55,-474.93 L349.05,-478.07 L349.55,-481.21 L350.05,-484.37 L350.55,-487.53 L351.05,-490.69 L351.55,-493.87 L352.05,-497.05 L352.55,-500.23 L353.05,-503.43 L353.55,-506.63 L354.05,-509.83 L354.55,-513.04 L355.05,-516.26 L355.55,-519.49 L356.05,-522.72 L356.55,-525.96 L357.05,-529.20 L357.55,-532.45 L358.05,-535.71 L358.55,-538.97 L359.05,-542.24 L359.55,-545.52 L360.05,-548.80 L360.55,-552.09 L361.05,-555.38 L361.55,-558.68 L362.05,-561.99 L362.55,-565.30 L363.05,-568.62 L363.55,-571.95 L364.05,-575.28 L364.55,-578.62 L365.05,-581.97 L365.55,-585.32 L366.05,-588.67 L366.55,-592.04 L367.05,-595.41 L367.55,-598.78 L368.05,-602.16 L368.55,-605.55 L369.05,-608.95 L369.55,-612.35 L370.05,-615.75 L370.55,-619.17 L371.05,-622.59 L371.55,-626.01 L372.05,-629.44 L372.55,-632.88 L373.05,-636.32 L373.55,-639.77 L374.05,-643.23 L374.55,-646.69 L375.05,-650.15 L375.55,-653.63 L376.05,-657.11 L376.55,-660.59 L377.05,-664.08 L377.55,-667.58 L378.05,-671.08 L378.55,-674.59 L379.05,-678.11 L379.55,-681.63 L380.05,-685.15 L380.55,-688.69 L381.05,-692.23 L381.55,-695.77 L382.05,-699.32 L382.55,-702.88 L383.05,-706.44 L383.55,-710.01 L384.05,-713.58 L384.55,-717.16 L385.05,-720.74 L385.55,-724.34 L386.05,-727.93 L386.55,-731.53 L387.05,-735.14 L387.55,-738.76 L388.05,-742.38 L388.55,-746.00 L389.05,-749.63 L389.55,-753.27 L390.05,-756.91 L390.55,-760.56 L391.05,-764.22 L391.55,-767.88 L392.05,-771.54 L392.55,-775.21 L393.05,-778.89 L393.55,-782.57 L394.05,-786.26 L394.55,-789.95 L395.05,-793.65 L395.55,-797.36 L396.05,-801.07 L396.55,-804.79 L397.05,-808.51 L397.55,-812.23 L398.05,-815.97 L398.55,-819.71 L399.05,-823.45 L399.55,-827.20 L400.05,-830.95 L400.55,-834.71 L401.05,-838.48 L401.55,-842.25 L402.05,-846.03 L402.55,-849.81 L403.05,-853.60 L403.55,-857.39 L404.05,-861.19 L404.55,-864.99 L405.05,-868.80 L405.55,-872.62 L406.05,-876.44 L406.55,-880.26 L407.05,-884.09 L407.55,-887.93 L408.05,-891.77 L408.55,-895.62 L409.05,-899.47 L409.55,-903.32 L410.05,-907.19 L410.55,-911.06 L411.05,-914.93 L411.55,-918.81 L412.05,-922.69 L412.55,-926.58 L413.05,-930.47 L413.55,-934.37 L414.05,-938.28 L414.55,-942.19 L415.05,-946.10 L415.55,-950.02 L416.05,-953.95 L416.55,-957.88 L417.05,-961.81 L417.55,-965.75 L418.05,-969.70 L418.55,-973.65 L419.05,-977.61 L419.55,-981.57 L420.05,-985.53 L420.55,-989.51 L421.05,-993.48 L421.55,-997.46 L422.05,-1001.45 L422.55,-1005.44 L423.05,-1009.44 L423.55,-1013.44 L424.05,-1017.45 L424.55,-1021.46 L425.05,-1025.47 L425.55,-1029.50 L426.05,-1033.52 L426.55,-1037.55 L427.05,-1041.59 L427.55,-1045.63 L428.45,-1052.92" stroke="#0000ff" stroke-width="1.5" stroke-dasharray="1.4 1.25 3.0 1.25" stroke-dashoffset="0.87"/>
<path d="M64.55,-565.85 L65.05,-557.93 L65.55,-550.07 L66.05,-542.24 L66.55,-534.46 L67.05,-526.73 L67.55,-519.03 L68.05,-511.38 L68.55,-503.77 L69.05,-496.21 L69.55,-488.69 L70.05,-481.21 L70.55,-473.78 L71.05,-466.39 L71.55,-459.04 L72.05,-451.73 L72.55,-444.47 L73.05,-437.25 L73.55,-430.07 L74.05,-422.94 L74.55,-415.85 L75.05,-408.80 L75.55,-401.79 L76.05,-394.83 L76.55,-387.91 L77.05,-381.03 L77.55,-374.20 L78.05,-367.41 L78.55,-360.66 L79.05,-353.95 L79.55,-347.28 L80.05,-340.66 L80.55,-334.08 L81.05,-327.54 L81.55,-321.05 L82.05,-314.60 L82.55,-308.18 L83.05,-301.82 L83.55,-295.49 L84.05,-289.21 L84.55,-282.96 L85.05,-276.76 L85.55,-270.60 L86.05,-264.49 L86.55,-258.41 L87.05,-252.38 L87.55,-246.39 L88.05,-240.44 L88.55,-234.54 L89.05,-228.67 L89.55,-222.85 L90.05,-217.07 L90.55,-211.33 L91.05,-205.63 L91.55,-199.97 L92.05,-194.36 L92.55,-188.78 L93.05,-183.25 L93.55,-177.76 L94.05,-172.31 L94.55,-166.90 L95.05,-161.53 L95.55,-156.21 L96.05,-150.92 L96.55,-145.68 L97.05,-140.48 L97.55,-135.32 L98.05,-130.20 L98.55,-125.12 L99.05,-120.08 L99.55,-115.09 L100.05,-110.13 L100.55,-105.22 L101.05,-100.35 L101.55,-95.51 L102.05,-90.72 L102.55,-85.97 L103.05,-81.26 L103.55,-76.59 L104.05,-71.96 L104.55,-67.37 L105.05,-62.83 L105.55,-58.32 L106.05,-53.85 L106.55,-49.43 L107.05,-45.04 L107.55,-40.69 L108.05,-36.39 L108.55,-32.13 L109.05,-27.90 L109.55,-23.72 L110.05,-19.57 L110.55,-15.47 L111.05,-11.41 L111.55,-7.39 L112.05,-3.40 L112.55,0.54 L113.05,4.44 L113.55,8.31 L114.05,12.13 L114.55,15.91 L115.05,19.66 L115.55,23.36 L116.05,27.02 L116.55,30.65 L117.05,34.23 L117.55,37.77 L118.05,41.28 L118.55,44.74 L119.05,48.17 L119.55,51.55 L120.05,54.90 L120.55,58.21 L121.05,61.47 L121.55,64.70 L122.05,67.89 L122.55,71.04 L123.05,74.15 L123.55,77.22 L124.05,80.25 L124.55,83.24 L125.05,86.20 L125.55,89.11 L126.05,91.98 L126.55,94.82 L127.05,97.62 L127.55,100.37 L128.05,103.09 L128.55,105.77 L129.05,108.41 L129.55,111.02 L130.05,113.58 L130.55,116.10 L131.05,118.59 L131.55,121.04 L132.05,123.45 L132.55,125.82 L133.05,128.15 L133.55,130.44 L134.05,132.69 L134.55,134.91 L135.05,137.09 L135.55,139.23 L136.05,141.33 L136.55,143.39 L137.05,145.41 L137.55,147.40 L138.05,149.35 L138.55,151.26 L139.05,153.13 L139.55,154.96 L140.05,156.75 L140.55,158.51 L141.05,160.23 L141.55,161.91 L142.05,163.55 L142.55,165.16 L143.05,166.73 L143.55,168.26 L144.05,169.75 L144.55,171.20 L145.05,172.62 L145.55,174.00 L146.05,175.34 L146.55,176.64 L147.05,177.91 L147.55,179.13 L148.05,180.33 L148.55,181.48 L149.05,182.59 L149.55,183.67 L150.05,184.71 L150.55,185.72 L151.05,186.68 L151.55,187.61 L152.05,188.51 L152.55,189.36 L153.05,190.18 L153.55,190.96 L154.05,191.70 L154.55,192.41 L155.05,193.08 L155.55,193.71 L156.05,194.31 L156.55,194.87 L157.05,195.39 L157.55,195.87 L158.05,196.32 L158.55,196.73 L159.05,197.11 L159.55,197.45 L160.05,197.75 L160.55,198.01 L161.05,198.24 L161.55,198.43 L162.05,198.59 L162.55,198.71 L163.05,198.79 L163.55,198.84 L164.05,198.85 L164.55,198.82 L165.05,198.76 L165.55,198.66 L166.05,198.53 L166.55,198.36 L167.05,198.15 L167.55,197.90 L168.05,197.63 L168.55,197.31 L169.05,196.96 L169.55,196.57 L170.05,196.15 L170.55,195.69 L171.05,195.19 L171.55,194.66 L172.05,194.10 L172.55,193.50 L173.05,192.86 L173.55,192.18 L174.05,191.47 L174.55,190.73 L175.05,189.95 L175.55,189.13 L176.05,188.28 L176.55,187.40 L177.05,186.47 L177.55,185.52 L178.05,184.52 L178.55,183.50 L179.05,182.43 L179.55,181.34 L180.05,180.20 L180.55,179.03 L181.05,177.83 L181.55,176.59 L182.05,175.32 L182.55,174.01 L183.05,172.66 L183.55,171.28 L184.05,169.87 L184.55,168.42 L185.05,166.94 L185.55,165.42 L186.05,163.87 L186.55,162.28 L187.05,160.66 L187.55,159.00 L188.05,157.31 L188.55,155.58 L189.05,153.82 L189.55,152.03 L190.05,150.20 L190.55,148.33 L191.05,146.44 L191.55,144.50 L192.05,142.54 L192.55,140.54 L193.05,138.50 L193.55,136.43 L194.05,134.33 L194.55,132.19 L195.05,130.02 L195.55,127.81 L196.05,125.57 L196.55,123.30 L197.05,120.99 L197.55,118.65 L198.05,116.27 L198.55,113.86 L199.05,111.42 L199.55,108.94 L200.05,106.43 L200.55,103.89 L201.05,101.31 L201.55,98.70 L202.05,96.05 L202.55,93.37 L203.05,90.66 L203.55,87.91 L204.05,85.13 L204.55,82.32 L205.05,79.47 L205.55,76.59 L206.05,73.68 L206.55,70.74 L207.05,67.76 L207.55,64.74 L208.05,61.70 L208.55,58.62 L209.05,55.51 L209.55,52.36 L210.05,49.18 L210.55,45.97 L211.05,42.73 L211.55,39.45 L212.05,36.14 L212.55,32.80 L213.05,29.43 L213.55,26.02 L214.05,22.58 L214.55,19.10 L215.05,15.60 L215.55,12.06 L216.05,8.49 L216.55,4.89 L217.05,1.25 L217.55,-2.42 L218.05,-6.12 L218.55,-9.85 L219.05,-13.62 L219.55,-17.42 L220.05,-21.25 L220.55,-25.11 L221.05,-29.01 L221.55,-32.93 L222.05,-36.89 L222.55,-40.88 L223.05,-44.91 L223.55,-48.96 L224.05,-53.05 L224.55,-57.17 L225.05,-61.32 L225.55,-65.50 L226.05,-69.72 L226.55,-73.96 L227.05,-78.24 L227.55,-82.55 L228.05,-86.89 L228.55,-91.27 L229.05,-95.67 L229.55,-100.11 L230.05,-104.58 L230.55,-109.08 L231.05,-113.61 L231.55,-118.17 L232.05,-122.76 L232.55,-127.39 L233.05,-132.05 L233.55,-136.74 L234.05,-141.45 L234.55,-146.21 L235.05,-150.99 L235.55,-155.80 L236.05,-160.64 L236.55,-165.52 L237.05,-170.43 L237.55,-175.36 L238.05,-180.33 L238.55,-185.33 L239.05,-190.36 L239.55,-195.42 L240.05,-200.51 L240.55,-205.64 L241.05,-210.79 L241.55,-215.97 L242.05,-221.19 L242.55,-226.43 L243.05,-231.71 L243.55,-237.02 L244.05,-242.35 L244.55,-247.72 L245.05,-253.12 L245.55,-258.55 L246.05,-264.01 L246.55,-269.50 L247.05,-275.01 L247.55,-280.56 L248.05,-286.14 L248.55,-291.76 L249.05,-297.40 L249.55,-303.07 L250.05,-308.77 L250.55,-314.50 L251.05,-320.26 L251.55,-326.05 L252.05,-331.87 L252.55,-337.72 L253.05,-343.60 L253.55,-349.51 L254.05,-355.45 L254.55,-361.42 L255.05,-367.42 L255.55,-373.45 L256.05,-379.51 L256.55,-385.60 L257.05,-391.72 L257.55,-397.87 L258.05,-404.04 L258.55,-410.25 L259.05,-416.49 L259.55,-422.75 L260.05,-429.05 L260.55,-435.37 L261.05,-441.73 L261.55,-448.11 L262.05,-454.52 L262.55,-460.96 L263.05,-467.44 L263.55,-473.94 L264.05,-480.46 L264.55,-487.02 L265.05,-493.61 L265.55,-500.23 L266.05,-506.87 L266.55,-513.54 L267.05,-520.25 L267.55,-526.98 L268.05,-533.74 L268.55,-540.53 L269.05,-547.35 L269.55,-554.19 L270.05,-561.07 L270.55,-567.97 L271.05,-574.91 L271.55,-581.87 L272.05,-588.86 L272.55,-595.87 L273.05,-602.92 L273.55,-609.99 L274.05,-617.10 L274.55,-624.23 L275.05,-631.39 L275.55,-638.58 L276.05,-645.79 L276.55,-653.04 L277.05,-660.31 L277.55,-667.61 L278.05,-674.94 L278.55,-682.30 L279.05,-689.68 L279.55,-697.10 L280.05,-704.54 L280.55,-712.01 L281.05,-719.50 L281.55,-727.03 L282.05,-734.58 L282.55,-742.16 L283.05,-749.77 L283.55,-757.40 L284.05,-765.06 L284.55,-772.75 L285.05,-780.47 L285.55,-788.22 L286.05,-795.99 L286.55,-803.79 L287.05,-811.62 L287.55,-819.48 L288.05,-827.36 L288.55,-835.27 L289.05,-843.21 L289.55,-851.17 L290.05,-859.16 L290.55,-867.18 L291.05,-875.23 L291.55,-883.30 L292.05,-891.40 L292.55,-899.53 L293.05,-907.68 L293.55,-915.86 L294.05,-924.07 L294.55,-932.31 L295.05,-940.57 L295.55,-948.86 L296.05,-957.17 L296.55,-965.52 L297.05,-973.89 L297.55,-982.28 L298.05,-990.70 L298.55,-999.15 L299.05,-1007.63 L299.55,-1016.13 L300.05,-1024.66 L300.55,-1033.21 L301.05,-1041.79 L301.55,-1050.40 L302.05,-1059.04 L302.55,-1067.70 L303.05,-1076.38 L303.55,-1085.10 L304.05,-1093.83 L304.55,-1102.60 L305.05,-1111.39 L305.55,-1120.21 L306.05,-1129.05 L306.55,-1137.92 L307.05,-1146.82 L307.55,-1155.74 L308.05,-1164.68 L308.55,-1173.66 L309.05,-1182.66 L309.55,-1191.68 L310.05,-1200.73 L310.55,-1209.81 L311.05,-1218.91 L311.55,-1228.04 L312.05,-1237.19 L312.55,-1246.37 L313.05,-1255.57 L313.55,-1264.80 L314.05,-1274.06 L314.55,-1283.34 L315.05,-1292.65 L315.55,-1301.98 L316.05,-1311.33 L316.55,-1320.72 L317.05,-1330.12 L317.55,-1339.56 L318.05,-1349.01 L318.55,-1358.50 L319.05,-1368.00 L319.55,-1377.54 L320.05,-1387.10 L320.55,-1396.68 L321.05,-1406.29 L321.55,-1415.92 L322.05,-1425.58 L322.55,-1435.26 L323.05,-1444.97 L323.55,-1454.70 L324.05,-1464.46 L324.55,-1474.24 L325.05,-1484.05 L325.55,-1493.88 L326.05,-1503.73 L326.55,-1513.61 L327.05,-1523.52 L327.55,-1533.45 L328.05,-1543.40 L328.55,-1553.38 L329.05,-1563.38 L329.55,-1573.41 L330.05,-1583.46 L330.55,-1593.53 L331.05,-1603.63 L331.55,-1613.76 L332.05,-1623.91 L332.55,-1634.08 L333.05,-1644.27 L333.55,-1654.49 L334.05,-1664.74 L334.55,-1675.01 L335.05,-1685.30 L335.55,-1695.62 L336.05,-1705.96 L336.55,-1716.32 L337.05,-1726.71 L337.55,-1737.12 L338.05,-1747.55 L338.55,-1758.01 L339.05,-1768.49 L339.55,-1779.00 L340.05,-1789.53 L340.55,-1800.08 L341.05,-1810.66 L341.55,-1821.26 L342.05,-1831.89 L342.55,-1842.53 L343.05,-1853.20 L343.55,-1863.90 L344.05,-1874.61 L344.55,-1885.35 L345.05,-1896.12 L345.55,-1906.90 L346.05,-1917.71 L346.55,-1928.55 L347.05,-1939.40 L347.55,-1950.28 L348.05,-1961.19 L348.55,-1972.11 L349.05,-1983.06 L349.55,-1994.03 L350.05,-2005.02 L350.55,-2016.04 L351.05,-2027.08 L351.55,-2038.14 L352.05,-2049.23 L352.55,-2060.33 L353.05,-2071.46 L353.55,-2082.62 L354.05,-2093.79 L354.55,-2104.99 L355.05,-2116.21 L355.55,-2127.45 L356.05,-2138.72 L356.55,-2150.01 L357.05,-2161.32 L357.55,-2172.65 L358.05,-2184.01 L358.55,-2195.38 L359.05,-2206.78 L359.55,-2218.20 L360.05,-2229.65 L360.55,-2241.11 L361.05,-2252.60 L361.55,-2264.11 L362.05,-2275.64 L362.55,-2287.19 L363.05,-2298.77 L363.55,-2310.37 L364.05,-2321.99 L364.55,-2333.63 L365.05,-2345.29 L365.55,-2356.98 L366.05,-2368.68 L366.55,-2380.41 L367.05,-2392.16 L367.55,-2403.93 L368.05,-2415.72 L368.55,-2427.54 L369.05,-2439.37 L369.55,-2451.23 L370.05,-2463.11 L370.55,-2475.01 L371.05,-2486.93 L371.55,-2498.87 L372.05,-2510.84 L372.55,-2522.82 L373.05,-2534.83 L373.55,-2546.86 L374.05,-2558.91 L374.55,-2570.97 L375.05,-2583.07 L375.55,-2595.18 L376.05,-2607.31 L376.55,-2619.46 L377.05,-2631.64 L377.55,-2643.83 L378.05,-2656.05 L378.55,-2668.29 L379.05,-2680.55 L379.55,-2692.82 L380.05,-2705.12 L380.55,-2717.44 L381.05,-2729.78 L381.55,-2742.14 L382.05,-2754.53 L382.55,-2766.93 L383.05,-2779.35 L383.55,-2791.79 L384.05,-2804.26 L384.55,-2816.74 L385.05,-2829.25 L385.55,-2841.77 L386.05,-2854.32 L386.55,-2866.88 L387.05,-2879.47 L387.55,-2892.07 L388.05,-2904.70 L388.55,-2917.34 L389.05,-2930.01 L389.55,-2942.69 L390.05,-2955.40 L390.55,-2968.12 L391.05,-2980.87 L391.55,-2993.63 L392.05,-3006.42 L392.55,-3019.22 L393.05,-3032.05 L393.55,-3044.89 L394.05,-3057.76 L394.55,-3070.64 L395.05,-3083.54 L395.55,-3096.47 L396.05,-3109.41 L396.55,-3122.37 L397.05,-3135.35 L397.55,-3148.35 L398.05,-3161.37 L398.55,-3174.41 L399.05,-3187.47 L399.55,-3200.55 L400.05,-3213.64 L400.55,-3226.76 L401.05,-3239.90 L401.55,-3253.05 L402.05,-3266.22 L402.55,-3279.42 L403.05,-3292.63 L403.55,-3305.86 L404.05,-3319.11 L404.55,-3332.38 L405.05,-3345.67 L405.55,-3358.97 L406.05,-3372.30 L406.55,-3385.64 L407.05,-3399.00 L407.55,-3412.39 L408.05,-3425.79 L408.55,-3439.20 L409.05,-3452.64 L409.55,-3466.10 L410.05,-3479.57 L410.55,-3493.06 L411.05,-3506.58 L411.55,-3520.11 L412.05,-3533.65 L412.55,-3547.22 L413.05,-3560.80 L413.55,-3574.41 L414.05,-3588.03 L414.55,-3601.67 L415.05,-3615.33 L415.55,-3629.00 L416.05,-3642.69 L416.55,-3656.41 L417.05,-3670.14 L417.55,-3683.88 L418.05,-3697.65 L418.55,-3711.43 L419.05,-3725.23 L419.55,-3739.05 L420.05,-3752.89 L420.55,-3766.75 L421.05,-3780.62 L421.55,-3794.51 L422.05,-3808.42 L422.55,-3822.34 L423.05,-3836.28 L423.55,-3850.25 L424.05,-3864.22 L424.55,-3878.22 L425.05,-3892.23 L425.55,-3906.26 L426.05,-3920.31 L426.55,-3934.37 L427.05,-3948.46 L427.55,-3962.56 L428.45,-3987.98" stroke="#ff00ff" stroke-width="1.8" stroke-dasharray="4.6 2.0" stroke-dashoffset="3.40"/>
</g>
<g stroke="#666">
<line x1="64.55" y1="5.65" x2="428.45" y2="5.65" stroke-width="0.37"/>
<line x1="64.55" y1="226.04" x2="428.45" y2="226.04" stroke-width="0.37"/>
<line x1="64.55" y1="5.65" x2="64.55" y2="226.04" stroke-width="0.3"/>
<line x1="428.45" y1="5.65" x2="428.45" y2="226.04" stroke-width="0.3"/>
</g>
<g stroke="#666" stroke-width="0.37">
<line x1="64.55" y1="226.04" x2="64.55" y2="222.57" stroke-width="0.38"/>
<line x1="64.55" y1="5.65" x2="64.55" y2="9.13" stroke-width="0.38"/>
<line x1="79.71" y1="226.04" x2="79.71" y2="223.96" stroke-width="0.38"/>
<line x1="79.71" y1="5.65" x2="79.71" y2="7.74" stroke-width="0.38"/>
<line x1="94.88" y1="226.04" x2="94.88" y2="223.96" stroke-width="0.38"/>
<line x1="94.88" y1="5.65" x2="94.88" y2="7.74" stroke-width="0.38"/>
<line x1="110.04" y1="226.04" x2="110.04" y2="223.96" stroke-width="0.38"/>
<line x1="110.04" y1="5.65" x2="110.04" y2="7.74" stroke-width="0.38"/>
<line x1="125.20" y1="226.04" x2="125.20" y2="222.57" stroke-width="0.38"/>
<line x1="125.20" y1="5.65" x2="125.20" y2="9.13" stroke-width="0.38"/>
<line x1="140.36" y1="226.04" x2="140.36" y2="223.96" stroke-width="0.38"/>
<line x1="140.36" y1="5.65" x2="140.36" y2="7.74" stroke-width="0.38"/>
<line x1="155.53" y1="226.04" x2="155.53" y2="223.96" stroke-width="0.38"/>
<line x1="155.53" y1="5.65" x2="155.53" y2="7.74" stroke-width="0.38"/>
<line x1="170.69" y1="226.04" x2="170.69" y2="223.96" stroke-width="0.38"/>
<line x1="170.69" y1="5.65" x2="170.69" y2="7.74" stroke-width="0.38"/>
<line x1="185.85" y1="226.04" x2="185.85" y2="222.57" stroke-width="0.38"/>
<line x1="185.85" y1="5.65" x2="185.85" y2="9.13" stroke-width="0.38"/>
<line x1="201.01" y1="226.04" x2="201.01" y2="223.96" stroke-width="0.38"/>
<line x1="201.01" y1="5.65" x2="201.01" y2="7.74" stroke-width="0.38"/>
<line x1="216.18" y1="226.04" x2="216.18" y2="223.96" stroke-width="0.38"/>
<line x1="216.18" y1="5.65" x2="216.18" y2="7.74" stroke-width="0.38"/>
<line x1="231.34" y1="226.04" x2="231.34" y2="223.96" stroke-width="0.38"/>
<line x1="231.34" y1="5.65" x2="231.34" y2="7.74" stroke-width="0.38"/>
<line x1="246.50" y1="226.04" x2="246.50" y2="222.57" stroke-width="0.38"/>
<line x1="246.50" y1="5.65" x2="246.50" y2="9.13" stroke-width="0.38"/>
<line x1="261.66" y1="226.04" x2="261.66" y2="223.96" stroke-width="0.38"/>
<line x1="261.66" y1="5.65" x2="261.66" y2="7.74" stroke-width="0.38"/>
<line x1="276.83" y1="226.04" x2="276.83" y2="223.96" stroke-width="0.38"/>
<line x1="276.83" y1="5.65" x2="276.83" y2="7.74" stroke-width="0.38"/>
<line x1="291.99" y1="226.04" x2="291.99" y2="223.96" stroke-width="0.38"/>
<line x1="291.99" y1="5.65" x2="291.99" y2="7.74" stroke-width="0.38"/>
<line x1="307.15" y1="226.04" x2="307.15" y2="222.57" stroke-width="0.38"/>
<line x1="307.15" y1="5.65" x2="307.15" y2="9.13" stroke-width="0.38"/>
<line x1="322.31" y1="226.04" x2="322.31" y2="223.96" stroke-width="0.38"/>
<line x1="322.31" y1="5.65" x2="322.31" y2="7.74" stroke-width="0.38"/>
<line x1="337.48" y1="226.04" x2="337.48" y2="223.96" stroke-width="0.38"/>
<line x1="337.48" y1="5.65" x2="337.48" y2="7.74" stroke-width="0.38"/>
<line x1="352.64" y1="226.04" x2="352.64" y2="223.96" stroke-width="0.38"/>
<line x1="352.64" y1="5.65" x2="352.64" y2="7.74" stroke-width="0.38"/>
<line x1="367.80" y1="226.04" x2="367.80" y2="222.57" stroke-width="0.38"/>
<line x1="367.80" y1="5.65" x2="367.80" y2="9.13" stroke-width="0.38"/>
<line x1="382.96" y1="226.04" x2="382.96" y2="223.96" stroke-width="0.38"/>
<line x1="382.96" y1="5.65" x2="382.96" y2="7.74" stroke-width="0.38"/>
<line x1="398.13" y1="226.04" x2="398.13" y2="223.96" stroke-width="0.38"/>
<line x1="398.13" y1="5.65" x2="398.13" y2="7.74" stroke-width="0.38"/>
<line x1="413.29" y1="226.04" x2="413.29" y2="223.96" stroke-width="0.38"/>
<line x1="413.29" y1="5.65" x2="413.29" y2="7.74" stroke-width="0.38"/>
<line x1="428.45" y1="226.04" x2="428.45" y2="222.57" stroke-width="0.38"/>
<line x1="428.45" y1="5.65" x2="428.45" y2="9.13" stroke-width="0.38"/>
<line x1="64.55" y1="226.04" x2="68.55" y2="226.04"/>
<line x1="64.55" y1="219.75" x2="66.95" y2="219.75"/>
<line x1="64.55" y1="213.45" x2="66.95" y2="213.45"/>
<line x1="64.55" y1="207.15" x2="66.95" y2="207.15"/>
<line x1="64.55" y1="200.86" x2="66.95" y2="200.86"/>
<line x1="64.55" y1="194.56" x2="68.55" y2="194.56"/>
<line x1="64.55" y1="188.26" x2="66.95" y2="188.26"/>
<line x1="64.55" y1="181.97" x2="66.95" y2="181.97"/>
<line x1="64.55" y1="175.67" x2="66.95" y2="175.67"/>
<line x1="64.55" y1="169.37" x2="66.95" y2="169.37"/>
<line x1="64.55" y1="163.07" x2="68.55" y2="163.07"/>
<line x1="64.55" y1="156.78" x2="66.95" y2="156.78"/>
<line x1="64.55" y1="150.48" x2="66.95" y2="150.48"/>
<line x1="64.55" y1="144.18" x2="66.95" y2="144.18"/>
<line x1="64.55" y1="137.89" x2="66.95" y2="137.89"/>
<line x1="64.55" y1="131.59" x2="68.55" y2="131.59"/>
<line x1="64.55" y1="125.29" x2="66.95" y2="125.29"/>
<line x1="64.55" y1="119.00" x2="66.95" y2="119.00"/>
<line x1="64.55" y1="112.70" x2="66.95" y2="112.70"/>
<line x1="64.55" y1="106.40" x2="66.95" y2="106.40"/>
<line x1="64.55" y1="100.11" x2="68.55" y2="100.11"/>
<line x1="64.55" y1="93.81" x2="66.95" y2="93.81"/>
<line x1="64.55" y1="87.51" x2="66.95" y2="87.51"/>
<line x1="64.55" y1="81.21" x2="66.95" y2="81.21"/>
<line x1="64.55" y1="74.92" x2="66.95" y2="74.92"/>
<line x1="64.55" y1="68.62" x2="68.55" y2="68.62"/>
<line x1="64.55" y1="62.32" x2="66.95" y2="62.32"/>
<line x1="64.55" y1="56.03" x2="66.95" y2="56.03"/>
<line x1="64.55" y1="49.73" x2="66.95" y2="49.73"/>
<line x1="64.55" y1="43.43" x2="66.95" y2="43.43"/>
<line x1="64.55" y1="37.14" x2="68.55" y2="37.14"/>
<line x1="64.55" y1="30.84" x2="66.95" y2="30.84"/>
<line x1="64.55" y1="24.54" x2="66.95" y2="24.54"/>
<line x1="64.55" y1="18.25" x2="66.95" y2="18.25"/>
<line x1="64.55" y1="11.95" x2="66.95" y2="11.95"/>
<line x1="64.55" y1="5.65" x2="68.55" y2="5.65"/>
<line x1="428.45" y1="226.04" x2="424.45" y2="226.04"/>
<line x1="428.45" y1="210.30" x2="426.05" y2="210.30"/>
<line x1="428.45" y1="194.56" x2="424.45" y2="194.56"/>
<line x1="428.45" y1="178.82" x2="426.05" y2="178.82"/>
<line x1="428.45" y1="163.07" x2="424.45" y2="163.07"/>
<line x1="428.45" y1="147.33" x2="426.05" y2="147.33"/>
<line x1="428.45" y1="131.59" x2="424.45" y2="131.59"/>
<line x1="428.45" y1="115.85" x2="426.05" y2="115.85"/>
<line x1="428.45" y1="100.11" x2="424.45" y2="100.11"/>
<line x1="428.45" y1="84.36" x2="426.05" y2="84.36"/>
<line x1="428.45" y1="68.62" x2="424.45" y2="68.62"/>
<line x1="428.45" y1="52.88" x2="426.05" y2="52.88"/>
<line x1="428.45" y1="37.14" x2="424.45" y2="37.14"/>
<line x1="428.45" y1="21.39" x2="426.05" y2="21.39"/>
<line x1="428.45" y1="5.65" x2="424.45" y2="5.65"/>
</g>
<g font-size="15.0">
<text x="63.65" y="10.83" text-anchor="end">0.004</text>
<text x="63.65" y="42.31" text-anchor="end">0.003</text>
<text x="63.65" y="73.80" text-anchor="end">0.002</text>
<text x="63.65" y="105.28" text-anchor="end">0.001</text>
<text x="63.65" y="136.76" text-anchor="end">0.000</text>
<line x1="19.7" y1="163.47" x2="27.9" y2="163.47" stroke="#000" stroke-width="0.9"/>
<text x="63.65" y="168.25" text-anchor="end">0.001</text>
<line x1="19.7" y1="194.95" x2="27.9" y2="194.95" stroke="#000" stroke-width="0.9"/>
<text x="63.65" y="199.73" text-anchor="end">0.002</text>
<line x1="19.7" y1="226.43" x2="27.9" y2="226.43" stroke="#000" stroke-width="0.9"/>
<text x="63.65" y="231.22" text-anchor="end">0.003</text>
<text x="65.55" y="240.52" text-anchor="middle">1.78</text>
<text x="126.20" y="240.52" text-anchor="middle">1.80</text>
<text x="186.85" y="240.52" text-anchor="middle">1.82</text>
<text x="247.50" y="240.52" text-anchor="middle">1.84</text>
<text x="308.15" y="240.52" text-anchor="middle">1.86</text>
<text x="368.80" y="240.52" text-anchor="middle">1.88</text>
<text x="429.45" y="240.52" text-anchor="middle">1.90</text>
<text x="247.4" y="260.96" text-anchor="middle" font-size="17">r</text>
<text transform="translate(11.3,115.30) rotate(-90) scale(0.96,1)" text-anchor="middle" font-size="17.6"><tspan font-style="normal">V</tspan><tspan font-style="normal" font-size="13.5" dy="-1.6">(</tspan><tspan dy="1.6">r</tspan><tspan font-style="normal" font-size="13.5" dy="-1.6">)</tspan></text>
</g>
<g fill="none">
<line x1="362.7" y1="118.26" x2="382.85" y2="118.26" stroke="#000" stroke-width="1.45" stroke-dasharray="7.3 5.4"/>
<line x1="362.6" y1="141.91" x2="384.8" y2="141.91" stroke="#ff8000" stroke-width="1.35" stroke-dasharray="4.5 2.25"/>
<line x1="362.7" y1="165.83" x2="383.7" y2="165.83" stroke="#0000ff" stroke-width="1.4" stroke-dasharray="1.6 1.3 2.9 1.3"/>
<line x1="362.7" y1="189.48" x2="383.7" y2="189.48" stroke="#ff00ff" stroke-width="1.4" stroke-dasharray="1.6 1.3 2.9 1.3"/>
<line x1="362.6" y1="213.39" x2="385.0" y2="213.39" stroke="#ff5050" stroke-width="0.75"/>
</g>
<g font-size="15.0">
<text x="392.9" y="122.74">l=0</text>
<text x="392.9" y="146.39">l=1</text>
<text x="392.9" y="170.30">l=5</text>
<text x="392.9" y="193.96">l=10</text>
<text x="393.0" y="217.48">r<tspan font-size="10.8" dy="2.3">h</tspan></text>
</g>
</g>
</svg>
</body></html>
